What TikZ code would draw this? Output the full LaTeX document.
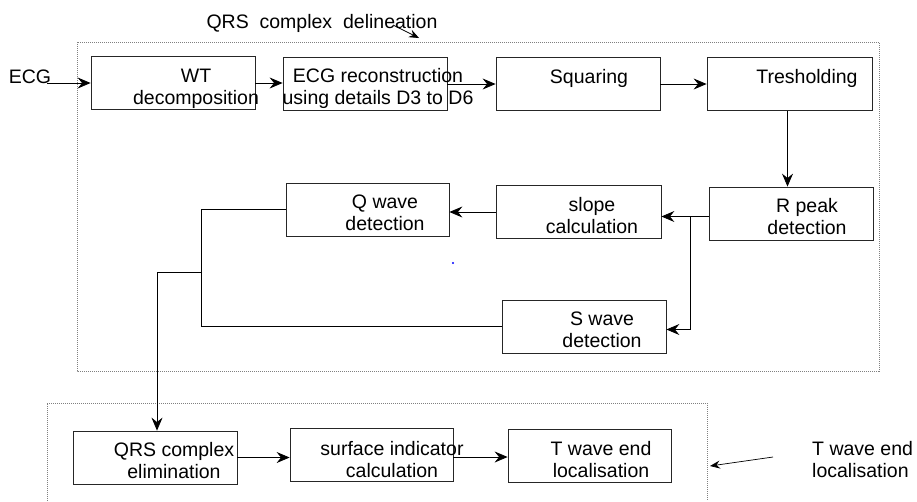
\documentclass[tikz,border=0pt]{standalone}
\usepackage{fontspec}
\setmainfont{Liberation Sans}
\usetikzlibrary{arrows.meta,calc}

\begin{document}
\begin{tikzpicture}[x=1pt,y=-1pt,
  blk/.style={draw=black!85,line width=0.8pt,minimum width=164pt,minimum height=53pt,inner sep=0pt},
  txt/.style={align=center,inner sep=0pt,font=\fontsize{19.5}{21.5}\selectfont,anchor=base},
  arr/.style={-{Stealth[length=13pt,width=11pt,inset=4.5pt]},line width=0.8pt},
  arrs/.style={-{Stealth[length=10pt,width=8pt,inset=3.5pt]},line width=0.7pt},
  frame/.style={draw=gray,line width=0.7pt,dash pattern=on 1pt off 1pt}]
\useasboundingbox (0,0) rectangle (917,501);
% dashed frames
\draw[frame] (77,42) rectangle (879,371);
\draw[frame] (47,501) -- (47,403) -- (707,403) -- (707,501);

% QRS delineation blocks
\node[blk] (wt) at (173,83) {};
\node[blk] (rec) at (365,84) {};
\node[blk] (sq) at (578,84) {};
\node[blk,minimum width=165pt] (thr) at (789.5,84) {};
\node[blk] (rpk) at (791,213.5) {};
\node[blk,minimum width=165pt] (slp) at (578.5,212) {};
\node[blk,minimum width=163pt] (qw) at (367.5,209.5) {};
\node[blk] (sw) at (584,326.5) {};
% T wave blocks
\node[blk] (qel) at (155,457.5) {};
\node[blk,minimum width=163pt] (sur) at (371.5,454.5) {};
\node[blk,minimum width=163pt] (tw) at (589.5,455.5) {};

% texts (base = last line)
\node[txt] (ecg) at (30,83) {ECG};
\node[txt] (ttl) at (322,28) {QRS\ \ complex\ \ delineation};
\node[txt] (wt-t) at (196,104) {WT\\decomposition};
\node[txt] (rec-t) at (378,104) {ECG reconstruction\\using details D3 to D6};
\node[txt] (sq-t) at (589,83) {Squaring};
\node[txt] (thr-t) at (807,83) {Tresholding};
\node[txt] (rpk-t) at (807,234) {R peak\\detection};
\node[txt] (slp-t) at (592,233) {slope\\calculation};
\node[txt] (qw-t) at (385,230) {Q wave\\detection};
\node[txt] (sw-t) at (602,347) {S wave\\detection};
\node[txt] (qel-t) at (174,478) {QRS complex\\elimination};
\node[txt] (sur-t) at (392,477) {surface indicator\\calculation};
\node[txt] (tw-t) at (601,477) {T wave end\\localisation};
\node[txt,align=left,anchor=base west] (twl) at (812,477) {T wave end\\localisation};

% connectors
\draw[arr] ([xshift=-4pt]ecg.east |- wt.west) -- (wt.west);
\draw[arr] (wt.east) -- (wt.east -| rec.west);
\draw[arr] (rec.east) -- (rec.east -| sq.west);
\draw[arr] (sq.east) -- (sq.east -| thr.west);
\draw[arr] ([xshift=-2pt]thr.south) -- ([xshift=-2pt]thr.south |- rpk.north);
\draw[arr] ([yshift=-3pt]rpk.west) -- ([yshift=-3pt]rpk.west -| slp.east);
\coordinate (rbr) at ($([yshift=-3pt]rpk.west)+(-18,0)$);
\draw[arr] (rbr) |- ([yshift=-3pt]sw.east);
\draw[arr] (slp.west) -- (slp.west -| qw.east);
\draw[line width=0.8pt] (qw.west) -- ++(-84,0) |- (sw.west);
\coordinate (mrg) at (202,272);
\draw[arr] (mrg) -| ([xshift=2pt]qel.north);
\draw[arr] (qel.east) -- (qel.east -| sur.west);
\draw[arr] ([yshift=-2.5pt]sur.east) -- ([yshift=-2.5pt]sur.east -| tw.west);
\coordinate (twa) at (773,457);
\coordinate (twb) at (710,466);
\draw[arrs] (twa) -- (twb);
\coordinate (ta) at (393,25);
\coordinate (tb) at (419,38);
\draw[arrs] (ta) -- (tb);
\fill[blue] (453,263) circle (1.2pt);
\end{tikzpicture}
\end{document}
